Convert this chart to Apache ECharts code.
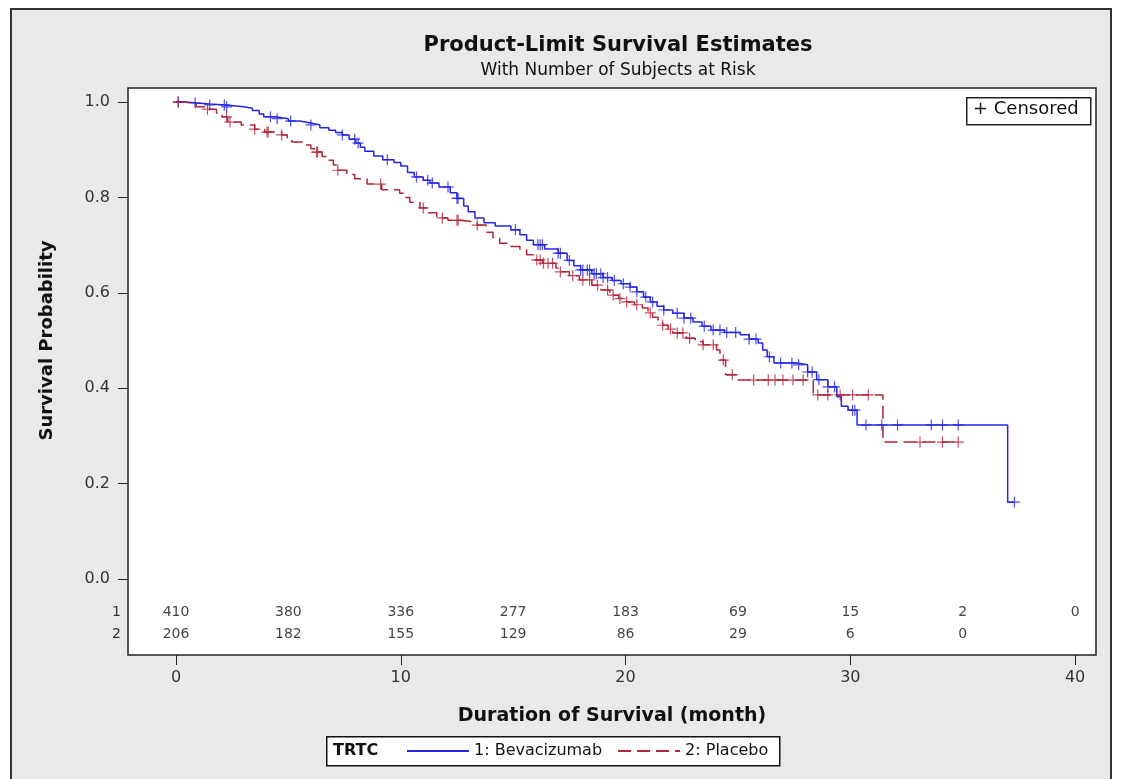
<!DOCTYPE html>
<html>
<head>
<meta charset="utf-8">
<script src="https://cdn.jsdelivr.net/npm/echarts@6/dist/echarts.min.js"></script>
<style>
  html, body { margin: 0; padding: 0; background: #fff; }
  #frame { position: absolute; left: 10px; top: 8px; width: 1098px; height: 790px; border: 2px solid #333; background: #e9e9e9; }
  #chart { position: absolute; left: 0; top: 0; width: 1121px; height: 779px; }
</style>
</head>
<body>
<div id="frame"></div>
<div id="chart"></div>
<script>
// KM step points [month, survival]
const BEV_CURVE = [
  [0, 1.0], [0.4, 0.998], [0.9, 0.996], [1.5, 0.994], [2.2, 0.990], [3.0, 0.987], [3.4, 0.982],
  [3.7, 0.975], [3.9, 0.969], [4.4, 0.965], [5.0, 0.960], [5.5, 0.956], [6.0, 0.952], [6.4, 0.946],
  [6.8, 0.941], [7.1, 0.936], [7.4, 0.931], [7.7, 0.922], [8.0, 0.914], [8.2, 0.905], [8.4, 0.897],
  [8.8, 0.887], [9.2, 0.879], [9.7, 0.873], [10.0, 0.866], [10.3, 0.852], [10.6, 0.843], [11.0, 0.836],
  [11.3, 0.830], [11.7, 0.822], [12.2, 0.810], [12.5, 0.798], [12.8, 0.782], [13.0, 0.770], [13.3, 0.757],
  [13.7, 0.747], [14.2, 0.740], [14.9, 0.732], [15.3, 0.722], [15.6, 0.710], [15.9, 0.701], [16.4, 0.692],
  [17.0, 0.683], [17.4, 0.668], [17.7, 0.657], [18.0, 0.648], [18.5, 0.640], [19.0, 0.632], [19.4, 0.626],
  [19.8, 0.619], [20.2, 0.612], [20.5, 0.602], [20.8, 0.591], [21.1, 0.581], [21.4, 0.572], [21.7, 0.564],
  [22.1, 0.557], [22.6, 0.547], [23.0, 0.539], [23.4, 0.530], [23.8, 0.522], [24.4, 0.517], [25.1, 0.512],
  [25.5, 0.503], [25.9, 0.495], [26.1, 0.480], [26.3, 0.466], [26.6, 0.453], [27.6, 0.449], [28.1, 0.434],
  [28.5, 0.418], [29.0, 0.403], [29.4, 0.382], [29.6, 0.362], [29.9, 0.354], [30.3, 0.323], [37.0, 0.161],
  [37.3, 0.161]
]
const PLA_CURVE = [
  [0, 1.0], [0.4, 0.996], [0.9, 0.990], [1.4, 0.985], [1.8, 0.977], [2.05, 0.969], [2.3, 0.958],
  [2.9, 0.952], [3.5, 0.943], [3.95, 0.937], [4.7, 0.931], [4.95, 0.923], [5.15, 0.916], [5.7, 0.910],
  [6.0, 0.902], [6.2, 0.895], [6.5, 0.886], [6.75, 0.878], [7.0, 0.868], [7.2, 0.857], [7.6, 0.848],
  [7.95, 0.839], [8.5, 0.828], [9.15, 0.816], [9.95, 0.809], [10.2, 0.800], [10.4, 0.790], [10.85, 0.778],
  [11.2, 0.768], [11.6, 0.757], [12.1, 0.752], [12.6, 0.748], [13.4, 0.742], [13.8, 0.727], [14.1, 0.716],
  [14.4, 0.704], [14.9, 0.697], [15.3, 0.690], [15.6, 0.680], [15.9, 0.669], [16.3, 0.662], [16.9, 0.652],
  [17.1, 0.644], [17.5, 0.636], [17.95, 0.627], [18.5, 0.616], [18.9, 0.606], [19.3, 0.595], [19.7, 0.588],
  [20.05, 0.581], [20.4, 0.575], [20.75, 0.568], [21.0, 0.558], [21.2, 0.549], [21.45, 0.540], [21.65, 0.532],
  [21.9, 0.524], [22.1, 0.516], [22.7, 0.505], [23.1, 0.498], [23.45, 0.491], [24.05, 0.480], [24.2, 0.459],
  [24.45, 0.428], [25.0, 0.417], [28.35, 0.386], [31.45, 0.287], [34.8, 0.287]
]

// censoring times (months)
const BEV_CENSOR = [
  0.1, 0.85, 1.5, 2.15, 2.25, 4.2, 4.5, 5.1, 6.0, 7.4, 7.95, 8.1, 9.4, 10.7, 11.2, 11.4, 12.1, 12.5, 12.55,
  15.1, 16.1, 16.2, 16.3, 17.0, 17.1, 17.5, 18.0, 18.1, 18.3, 18.4, 18.6, 18.7, 18.9, 19.0, 19.2, 19.5, 19.9,
  20.2, 20.5, 20.9, 21.2, 21.7, 22.3, 22.6, 22.9, 23.5, 23.9, 24.2, 24.5, 24.9, 25.5, 25.8, 26.4, 26.9, 27.4,
  27.7, 28.1, 28.3, 28.6, 29.0, 29.3, 30.1, 30.2, 30.7, 31.4, 32.1, 33.6, 34.1, 34.8, 37.3
]
const PLA_CENSOR = [
  0.1, 1.4, 2.25, 2.4, 3.5, 4.05, 4.1, 4.7, 6.25, 6.3, 7.2, 9.1, 11.0, 11.85, 12.5, 12.55, 13.4, 16.05, 16.2,
  16.35, 16.55, 16.75, 17.1, 17.65, 18.1, 18.4, 18.75, 19.2, 19.45, 19.75, 20.05, 20.5, 21.1, 21.65, 22.0,
  22.3, 22.55, 22.85, 23.45, 23.9, 24.35, 24.75, 25.7, 26.35, 26.65, 27.0, 27.45, 27.9, 28.55, 29.0, 29.55,
  30.1, 30.8, 33.1, 34.1, 34.8
]

// number at risk
const RISK_TIMES = [0, 5, 10, 15, 20, 25, 30, 35, 40]
const RISK_BEV = [410, 380, 336, 277, 183, 69, 15, 2, 0]
const RISK_PLA = [206, 182, 155, 129, 86, 29, 6, 0]

const X_TICKS = [0, 10, 20, 30, 40]
const Y_TICKS = [0, 0.2, 0.4, 0.6, 0.8, 1.0]

const BLUE = '#2424e6'
const RED = '#b3233a'
const FONT = 'DejaVu Sans'
const Y_MIN = -0.1593
const Y_MAX = 1.0294
const ROW1_Y = -0.069
const ROW2_Y = -0.117

const survivalAt = (curve, t) => {
  let s = curve[0][1]
  for (const [ct, cs] of curve) {
    if (ct <= t) s = cs
    else break
  }
  return s
}

const PLUS = 'path://M0,4.45H10V5.55H0Z M4.45,0H5.55V10H4.45Z'

const chart = echarts.init(document.getElementById('chart'))

const censorSeries = (name, times, curve, color) => ({
  name: name + ' censored',
  type: 'scatter',
  data: times.map(t => [t, survivalAt(curve, t)]),
  symbol: PLUS,
  symbolSize: 11,
  itemStyle: { color: color },
  silent: true,
  z: 3
})

const riskSeries = (counts, rowY) => ({
  type: 'scatter',
  data: counts.map((n, i) => [RISK_TIMES[i], rowY, n]),
  symbolSize: 1,
  itemStyle: { color: 'transparent' },
  label: {
    show: true,
    position: 'inside',
    formatter: p => p.value[2],
    color: '#111',
    fontFamily: FONT,
    fontSize: 14
  },
  silent: true
})

const option = {
  animation: false,
  title: {
    text: 'Product-Limit Survival Estimates',
    subtext: 'With Number of Subjects at Risk',
    left: 613,
    top: 30,
    textAlign: 'center',
    itemGap: 6,
    textStyle: { fontFamily: FONT, fontSize: 21, fontWeight: 'bold', color: '#111' },
    subtextStyle: { fontFamily: FONT, fontSize: 17, color: '#111' }
  },
  legend: {
    data: ['1: Bevacizumab', '2: Placebo'],
    left: 406,
    top: 743,
    padding: 0,
    itemWidth: 62,
    itemHeight: 14,
    itemGap: 15,
    itemStyle: { color: 'transparent', borderWidth: 0, opacity: 0 },
    textStyle: { fontFamily: FONT, fontSize: 16, color: '#111' }
  },
  grid: {
    left: 128,
    right: 25,
    top: 88,
    bottom: 124,
    show: true,
    backgroundColor: '#fff',
    borderColor: '#222',
    borderWidth: 1.5
  },
  xAxis: {
    type: 'value',
    min: -2.136,
    max: 40.93,
    name: 'Duration of Survival (month)',
    nameLocation: 'middle',
    nameGap: 52,
    nameTextStyle: { fontFamily: FONT, fontSize: 19, fontWeight: 'bold', color: '#111' },
    axisLine: { show: false, onZero: false },
    axisTick: { show: true, inside: false, length: 10, customValues: X_TICKS, lineStyle: { color: '#222' } },
    axisLabel: { customValues: X_TICKS, margin: 15, fontFamily: FONT, fontSize: 16, color: '#333' },
    splitLine: { show: false }
  },
  yAxis: [
    {
      type: 'value',
      min: Y_MIN,
      max: Y_MAX,
      name: 'Survival Probability',
      nameLocation: 'middle',
      nameGap: 72,
      nameRotate: 90,
      nameTextStyle: { fontFamily: FONT, fontSize: 18, fontWeight: 'bold', color: '#111', padding: [0, 0, 0, 62] },
      axisLine: { show: false, onZero: false },
      axisTick: { show: true, inside: false, length: 10, customValues: Y_TICKS, lineStyle: { color: '#222' } },
      axisLabel: { customValues: Y_TICKS, margin: 18, formatter: v => v.toFixed(1), fontFamily: FONT, fontSize: 16, color: '#333' },
      splitLine: { show: false }
    },
    {
      type: 'value',
      position: 'left',
      min: Y_MIN,
      max: Y_MAX,
      axisLine: { show: false, onZero: false },
      axisTick: { show: false },
      axisLabel: {
        customValues: [ROW1_Y, ROW2_Y],
        margin: 7,
        formatter: v => (v > (ROW1_Y + ROW2_Y) / 2 ? '1' : '2'),
        fontFamily: FONT,
        fontSize: 14,
        color: '#333'
      },
      splitLine: { show: false }
    }
  ],
  graphic: [
    { type: 'rect', left: 966, top: 97, z: 10, shape: { width: 124, height: 27 }, style: { fill: '#fff', stroke: '#222', lineWidth: 1.5 } },
    { type: 'text', left: 973, top: 100, z: 11, style: { text: '+ Censored', font: '18px "DejaVu Sans"', fill: '#111' } },
    { type: 'rect', left: 326, top: 736, z: 0, shape: { width: 453, height: 29 }, style: { fill: '#fff', stroke: '#111', lineWidth: 1.5 } },
    { type: 'text', left: 333, top: 743, z: 1, style: { text: 'TRTC', font: 'bold 16px "DejaVu Sans"', fill: '#111' } }
  ],
  series: [
    {
      name: '1: Bevacizumab',
      type: 'line',
      step: 'end',
      data: BEV_CURVE,
      symbol: 'none',
      lineStyle: { color: BLUE, width: 1.5 },
      itemStyle: { color: BLUE },
      z: 2
    },
    {
      name: '2: Placebo',
      type: 'line',
      step: 'end',
      data: PLA_CURVE,
      symbol: 'none',
      lineStyle: { color: RED, width: 1.5, type: [13, 6] },
      itemStyle: { color: RED },
      z: 2
    },
    censorSeries('1: Bevacizumab', BEV_CENSOR, BEV_CURVE, BLUE),
    censorSeries('2: Placebo', PLA_CENSOR, PLA_CURVE, RED),
    riskSeries(RISK_BEV, ROW1_Y),
    riskSeries(RISK_PLA, ROW2_Y)
  ]
}

chart.setOption(option)
window.addEventListener('resize', () => chart.resize())
</script>
</body>
</html>
